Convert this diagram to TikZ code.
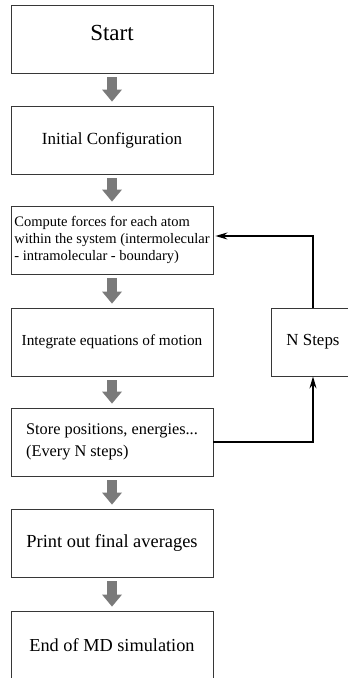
\documentclass[tikz,border=0pt]{standalone}
\usepackage{fontspec}
\setmainfont{Liberation Serif}
\definecolor{mdgray}{RGB}{122,122,122}
\definecolor{mdframe}{RGB}{55,55,55}
\usetikzlibrary{arrows.meta}

\begin{document}
\begin{tikzpicture}[x=1pt,y=-1pt,
  stage/.style={draw=mdframe,line width=0.9pt,minimum width=202pt,minimum height=68pt,inner sep=2pt},
  flow/.style={draw=mdgray,line width=10pt,-{Triangle[width=20pt,length=12pt,line width=0pt]},shorten <=4pt,shorten >=4pt},
  loopline/.style={draw=black,line width=1.3pt,-{Stealth[length=12pt,width=7pt,inset=4pt]}}]
  \useasboundingbox (0,0) rectangle (348,678);
  % Main column of stages
  \node[stage,text depth=13pt,font=\fontsize{23}{27}\selectfont] (start) at (112,39) {Start};
  \node[stage,font=\fontsize{17}{20}\selectfont] (init) at (112,140) {Initial Configuration};
  \node[stage,align=left,font=\fontsize{14.5}{17}\selectfont] (forces) at (112,240)
    {Compute forces for each atom\\within the system (intermolecular\\- intramolecular - boundary)};
  \node[stage,font=\fontsize{15.3}{18}\selectfont] (integ) at (112,342) {Integrate equations of motion};
  \node[stage,align=left,font=\fontsize{16.3}{22}\selectfont] (store) at (112,442)
    {Store positions, energies...\\(Every N steps)};
  \node[stage,font=\fontsize{18.4}{22}\selectfont] (print) at (112,543) {Print out final averages};
  \node[stage,font=\fontsize{18.3}{22}\selectfont] (finish) at (112,645) {End of MD simulation};
  % Loop box
  \node[stage,minimum width=84pt,font=\fontsize{16.9}{20}\selectfont] (nsteps) at (313,342) {N Steps};
  % Grey block arrows
  \draw[flow] (start) -- (init);
  \draw[flow] (init) -- (forces);
  \draw[flow] (forces) -- (integ);
  \draw[flow] (integ) -- (store);
  \draw[flow] (store) -- (print);
  \draw[flow] (print) -- (finish);
  % Feedback loop
  \draw[loopline] (store.east) -| (nsteps.south);
  \draw[loopline,shorten >=2pt] (nsteps.north) |- ([yshift=4pt]forces.east);
\end{tikzpicture}
\end{document}
